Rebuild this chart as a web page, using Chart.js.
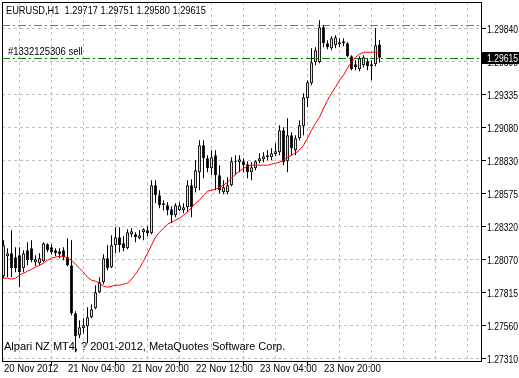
<!DOCTYPE html>
<html>
<head>
<meta charset="utf-8">
<script src="https://cdn.jsdelivr.net/npm/chart.js@4"></script>
<style>
  html, body { margin: 0; padding: 0; background: #fff; }
  #wrap { position: relative; width: 519px; height: 378px; overflow: hidden; }
  canvas { display: block; }
  .note { position: absolute; white-space: pre; font-size: 11px; line-height: 13px; color: #000;
          font-family: 'Liberation Sans', Arial, sans-serif; transform-origin: 0 0; }
</style>
</head>
<body>
<div id="wrap">
  <canvas id="chart" width="519" height="378"></canvas>
  <div class="note" id="title" style="left:6px;top:4px;transform:scaleX(0.84)"></div>
  <div class="note" id="order" style="left:8px;top:45px;transform:scaleX(0.86)"></div>
  <div class="note" id="copyright" style="left:4px;top:340px">Alpari NZ MT4, ? 2001-2012, MetaQuotes Software Corp.</div>
</div>
<script>
// EURUSD H1, one bar per hour starting 20 Nov 2012 12:00
const openPrices = [
    1.27941, 1.28094, 1.28117, 1.28087, 1.28102, 1.28002, 1.28140, 1.28156, 1.28048, 1.28041,
    1.28056, 1.28186, 1.28163, 1.28140, 1.28133, 1.28140, 1.28087, 1.28025, 1.27657, 1.27489,
    1.27542, 1.27558, 1.27627, 1.27696, 1.27818, 1.27895, 1.28079, 1.28010, 1.28179, 1.28240,
    1.28194, 1.28156, 1.28263, 1.28263, 1.28232, 1.28278, 1.28294, 1.28271, 1.28639, 1.28562,
    1.28501, 1.28485, 1.28455, 1.28409, 1.28447, 1.28447, 1.28470, 1.28639, 1.28616, 1.28738,
    1.28945, 1.28846, 1.28769, 1.28869, 1.28715, 1.28585, 1.28585, 1.28639, 1.28815, 1.28815,
    1.28823, 1.28800, 1.28738, 1.28769, 1.28823, 1.28838, 1.28853, 1.28853, 1.28876, 1.28892,
    1.29060, 1.28823, 1.29022, 1.28907, 1.28999, 1.29091, 1.29306, 1.29421, 1.29582, 1.29582,
    1.29850, 1.29727, 1.29689, 1.29712, 1.29720, 1.29743, 1.29727, 1.29628, 1.29566, 1.29528,
    1.29559, 1.29589, 1.29551, 1.29566, 1.29717
];
const highPrices = [
    1.28217, 1.28156, 1.28294, 1.28163, 1.28163, 1.28140, 1.28202, 1.28217, 1.28102, 1.28117,
    1.28202, 1.28194, 1.28186, 1.28156, 1.28156, 1.28163, 1.28232, 1.28217, 1.27673, 1.27604,
    1.27619, 1.27703, 1.27726, 1.27872, 1.27933, 1.28110, 1.28179, 1.28255, 1.28317, 1.28317,
    1.28248, 1.28301, 1.28309, 1.28278, 1.28294, 1.28309, 1.28324, 1.28677, 1.28677, 1.28600,
    1.28524, 1.28508, 1.28478, 1.28501, 1.28508, 1.28501, 1.28677, 1.28685, 1.28830, 1.28984,
    1.28984, 1.28869, 1.28907, 1.28907, 1.28792, 1.28677, 1.28700, 1.28853, 1.28869, 1.28869,
    1.28846, 1.28823, 1.28815, 1.28830, 1.28884, 1.28892, 1.28907, 1.28922, 1.28961, 1.29099,
    1.29083, 1.29152, 1.29045, 1.29022, 1.29137, 1.29344, 1.29444, 1.29689, 1.29697, 1.29904,
    1.29865, 1.29750, 1.29781, 1.29789, 1.29766, 1.29766, 1.29735, 1.29635, 1.29597, 1.29628,
    1.29635, 1.29612, 1.29597, 1.29842, 1.29751
];
const lowPrices = [
    1.27926, 1.27933, 1.27933, 1.27972, 1.27857, 1.27972, 1.28025, 1.28048, 1.28018, 1.28025,
    1.28048, 1.28125, 1.28110, 1.28094, 1.28079, 1.28064, 1.28018, 1.27642, 1.27358, 1.27466,
    1.27504, 1.27427, 1.27619, 1.27688, 1.27811, 1.27880, 1.27987, 1.28002, 1.28117, 1.28125,
    1.28133, 1.28148, 1.28240, 1.28202, 1.28225, 1.28217, 1.28248, 1.28263, 1.28501, 1.28462,
    1.28447, 1.28409, 1.28347, 1.28393, 1.28439, 1.28424, 1.28432, 1.28393, 1.28585, 1.28600,
    1.28692, 1.28738, 1.28715, 1.28600, 1.28577, 1.28570, 1.28570, 1.28631, 1.28715, 1.28738,
    1.28738, 1.28692, 1.28677, 1.28754, 1.28807, 1.28815, 1.28830, 1.28830, 1.28861, 1.28869,
    1.28792, 1.28738, 1.28869, 1.28869, 1.28984, 1.29022, 1.29237, 1.29405, 1.29559, 1.29574,
    1.29697, 1.29681, 1.29674, 1.29689, 1.29697, 1.29704, 1.29620, 1.29520, 1.29520, 1.29513,
    1.29543, 1.29520, 1.29444, 1.29551, 1.29580
];
const closePrices = [
    1.28179, 1.28117, 1.28002, 1.28002, 1.27972, 1.28117, 1.28064, 1.28064, 1.28071, 1.28079,
    1.28194, 1.28140, 1.28125, 1.28117, 1.28110, 1.28087, 1.28025, 1.27657, 1.27481, 1.27550,
    1.27565, 1.27627, 1.27688, 1.27818, 1.27895, 1.28079, 1.28002, 1.28179, 1.28240, 1.28179,
    1.28156, 1.28278, 1.28286, 1.28240, 1.28255, 1.28301, 1.28271, 1.28639, 1.28562, 1.28485,
    1.28485, 1.28447, 1.28409, 1.28485, 1.28485, 1.28470, 1.28639, 1.28470, 1.28754, 1.28945,
    1.28846, 1.28769, 1.28853, 1.28715, 1.28600, 1.28623, 1.28639, 1.28823, 1.28823, 1.28838,
    1.28792, 1.28738, 1.28777, 1.28823, 1.28846, 1.28861, 1.28869, 1.28884, 1.28899, 1.29060,
    1.28815, 1.29022, 1.28922, 1.28999, 1.29099, 1.29313, 1.29428, 1.29582, 1.29674, 1.29850,
    1.29727, 1.29697, 1.29766, 1.29773, 1.29735, 1.29727, 1.29628, 1.29528, 1.29543, 1.29612,
    1.29620, 1.29551, 1.29566, 1.29712, 1.29615
];
// moving average drawn in red
const maValues = [
    1.27926, 1.27926, 1.27918, 1.27926, 1.27949, 1.27964, 1.27979, 1.27995, 1.28010, 1.28025,
    1.28041, 1.28064, 1.28079, 1.28087, 1.28094, 1.28094, 1.28079, 1.28064, 1.28033, 1.28002,
    1.27972, 1.27933, 1.27910, 1.27903, 1.27887, 1.27864, 1.27857, 1.27864, 1.27872, 1.27872,
    1.27880, 1.27887, 1.27918, 1.27956, 1.28002, 1.28056, 1.28117, 1.28179, 1.28240, 1.28278,
    1.28309, 1.28340, 1.28355, 1.28370, 1.28386, 1.28409, 1.28432, 1.28470, 1.28501, 1.28524,
    1.28562, 1.28593, 1.28600, 1.28608, 1.28623, 1.28639, 1.28662, 1.28692, 1.28723, 1.28746,
    1.28769, 1.28784, 1.28792, 1.28792, 1.28792, 1.28792, 1.28792, 1.28800, 1.28807, 1.28815,
    1.28830, 1.28853, 1.28869, 1.28884, 1.28907, 1.28945, 1.28999, 1.29060, 1.29114, 1.29160,
    1.29229, 1.29290, 1.29344, 1.29390, 1.29444, 1.29482, 1.29536, 1.29582, 1.29620, 1.29643,
    1.29658, 1.29658, 1.29658, 1.29658, 1.29651
];

const symbolName = 'EURUSD,H1';
const orderTicket = '#1332125306 sell';
const stopLevel = 1.29865;
const orderLevel = 1.29615;

// time axis: labelled bars and their captions
const xTickBars = [0, 16, 32, 48, 64, 80];
const xTickLabels = ['20 Nov 2012', '21 Nov 04:00', '21 Nov 20:00', '22 Nov 12:00', '23 Nov 04:00', '23 Nov 20:00'];
// price axis
const yTickValues = [1.27310, 1.27563, 1.27816, 1.28069, 1.28322, 1.28575, 1.28828, 1.29081, 1.29334, 1.29587, 1.29840];
const yTickLabels = ['1.27310', '1.27560', '1.27815', '1.28070', '1.28320', '1.28575', '1.28830', '1.29080', '1.29335', '1.29590', '1.29840'];

// visible window: 120 bar slots, price range of the window
const X_MIN = -0.375, X_MAX = 119.625;
const Y_MIN = 1.272832, Y_MAX = 1.300432;

// the terminal font is narrower than Liberation Sans, so labels are squeezed
const AXIS_FONT = "11px 'Liberation Sans', Arial, sans-serif";
const X_SQUEEZE = 0.87;
const Y_SQUEEZE = 0.78;

const last = closePrices.length - 1;
document.getElementById('title').textContent = symbolName + '  ' +
    [openPrices[last], highPrices[last], lowPrices[last], closePrices[last]].map(v => v.toFixed(5)).join(' ');
document.getElementById('order').textContent = orderTicket;

const barIdx = closePrices.map((c, i) => i);
const bodyColors = closePrices.map((c, i) => c >= openPrices[i] ? '#ffffff' : '#000000');

function squeezedText(ctx, text, px, py, k) {
    ctx.save();
    ctx.translate(px, py);
    ctx.scale(k, 1);
    ctx.fillText(text, 0, 0);
    ctx.restore();
}

// order and stop lines, snapped to whole pixels
const levelsPlugin = {
    id: 'levels',
    beforeDatasetsDraw(chart) {
        const { ctx, chartArea: a, scales: { y } } = chart;
        const levels = [[stopLevel, '#ff4a00'], [orderLevel, '#008000']];
        ctx.save();
        ctx.lineWidth = 1;
        ctx.setLineDash([8, 3, 2, 3]);
        levels.forEach(([v, color]) => {
            const py = Math.round(y.getPixelForValue(v)) + 0.5;
            ctx.strokeStyle = color;
            ctx.beginPath();
            ctx.moveTo(a.left, py);
            ctx.lineTo(a.right, py);
            ctx.stroke();
        });
        ctx.restore();
    }
};

// black frame round the plot
const framePlugin = {
    id: 'frame',
    afterDatasetsDraw(chart) {
        const { ctx, chartArea: a } = chart;
        ctx.save();
        ctx.strokeStyle = '#000';
        ctx.lineWidth = 1;
        ctx.strokeRect(a.left + 0.5, a.top + 0.5, a.right - a.left - 1, a.bottom - a.top - 1);
        ctx.restore();
    }
};

// tick captions, placed from the scales
const axisLabelPlugin = {
    id: 'axisLabels',
    afterDraw(chart) {
        const { ctx, chartArea: a, scales: { x, y } } = chart;
        ctx.save();
        ctx.fillStyle = '#000';
        ctx.font = AXIS_FONT;
        ctx.textBaseline = 'middle';
        yTickValues.forEach((v, k) => {
            squeezedText(ctx, yTickLabels[k], a.right + 5, Math.round(y.getPixelForValue(v)) + 1, Y_SQUEEZE);
        });
        ctx.textBaseline = 'top';
        xTickBars.forEach((b, k) => {
            squeezedText(ctx, xTickLabels[k], Math.round(x.getPixelForValue(b)), a.bottom + 1, X_SQUEEZE);
        });
        ctx.restore();
    }
};

// current bid label on the price axis
const priceTagPlugin = {
    id: 'priceTag',
    afterDraw(chart) {
        const { ctx, chartArea: a, scales: { y } } = chart;
        const price = closePrices[last];
        const py = Math.round(y.getPixelForValue(price));
        ctx.save();
        ctx.fillStyle = '#000';
        ctx.fillRect(a.right, py - 6, chart.width - a.right, 12);
        ctx.fillStyle = '#fff';
        ctx.font = AXIS_FONT;
        ctx.textBaseline = 'middle';
        squeezedText(ctx, price.toFixed(5), a.right + 5, py + 1, Y_SQUEEZE);
        ctx.restore();
    }
};

const ctx = document.getElementById('chart').getContext('2d');

new Chart(ctx, {
    type: 'bar',
    data: {
        datasets: [
            {
                type: 'line',
                label: 'MA',
                data: maValues.map((v, i) => ({ x: i, y: v })),
                borderColor: '#ff0000',
                borderWidth: 1,
                pointRadius: 0,
                tension: 0
            },
            {
                label: 'body',
                data: barIdx.map(i => ({ x: i, y: [openPrices[i], closePrices[i]] })),
                backgroundColor: bodyColors,
                borderColor: '#000000',
                borderWidth: 1,
                borderSkipped: false,
                grouped: false,
                maxBarThickness: 3
            },
            {
                label: 'wick',
                data: barIdx.map(i => ({ x: i, y: [lowPrices[i], highPrices[i]] })),
                backgroundColor: '#000000',
                borderWidth: 0,
                grouped: false,
                maxBarThickness: 1
            }
        ]
    },
    options: {
        responsive: false,
        animation: false,
        layout: { padding: { left: 2, top: 2, right: 0, bottom: 0 } },
        plugins: {
            legend: { display: false },
            tooltip: { enabled: false }
        },
        scales: {
            x: {
                type: 'linear',
                min: X_MIN,
                max: X_MAX,
                offset: false,
                afterBuildTicks: (scale) => {
                    const t = [];
                    for (let v = 0; v <= 112; v += 8) t.push({ value: v });
                    scale.ticks = t;
                },
                afterFit: (scale) => {
                    scale.height = 16;
                    scale.paddingLeft = 0;
                    scale.paddingRight = 0;
                },
                grid: {
                    color: '#c0c0c0',
                    lineWidth: 1,
                    tickLength: 4,
                    tickColor: (c) => xTickBars.includes(c.tick && c.tick.value) ? '#000' : 'rgba(0,0,0,0)'
                },
                border: { display: false, dash: [3, 3] },
                ticks: { display: false }
            },
            y: {
                type: 'linear',
                position: 'right',
                min: Y_MIN,
                max: Y_MAX,
                afterBuildTicks: (scale) => {
                    scale.ticks = yTickValues.map(v => ({ value: v }));
                },
                afterFit: (scale) => {
                    scale.width = 37;
                    scale.paddingTop = 0;
                    scale.paddingBottom = 0;
                },
                grid: {
                    color: '#c0c0c0',
                    lineWidth: 1,
                    tickLength: 4,
                    tickColor: '#000'
                },
                border: { display: false, dash: [3, 3] },
                ticks: { display: false }
            }
        }
    },
    plugins: [levelsPlugin, framePlugin, axisLabelPlugin, priceTagPlugin]
});
</script>
</body>
</html>
